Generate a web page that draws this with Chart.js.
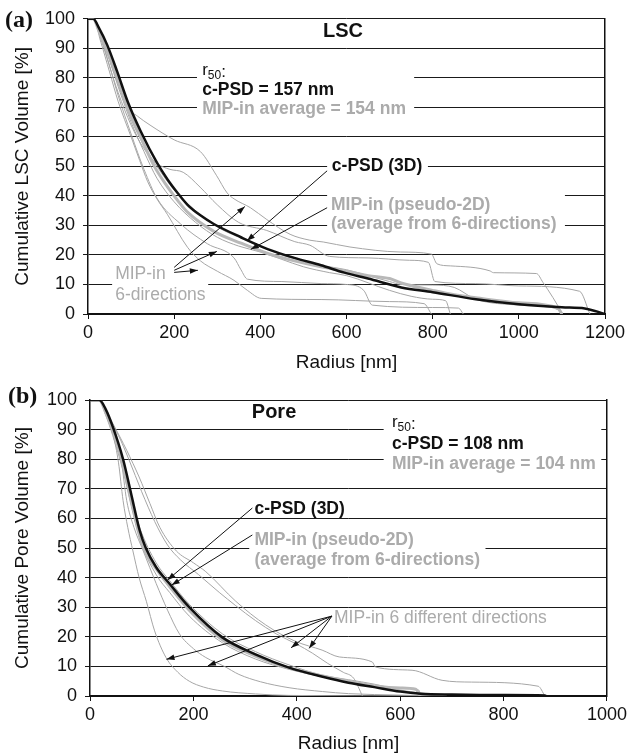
<!DOCTYPE html>
<html>
<head>
<meta charset="utf-8">
<script src="https://cdn.jsdelivr.net/npm/chart.js@4.4.1/dist/chart.umd.min.js"></script>
<style>
  html, body { margin: 0; padding: 0; background: #fff; }
  .panel { position: absolute; left: 0; width: 630px; height: 378px; }
  #pa { top: 0; }
  #pb { top: 378px; }
</style>
</head>
<body>
<div class="panel" id="pa"><canvas id="ca" width="630" height="378"></canvas></div>
<div class="panel" id="pb"><canvas id="cb" width="630" height="378"></canvas></div>
<script>
// ---------- DATA (radius nm, cumulative volume %) ----------
// Panel (a) LSC
const lscTicksX = [0, 200, 400, 600, 800, 1000, 1200];
const lscCpsd = [[0,100],[12,100],[25,97],[45,91],[68,82],[92,72],[122,62],[161,51],[185,45.5],[208,41],[231,37],[260,33.5],[292,30.5],[355,26],[417,22],[479,19],[541,16.5],[595,14],[650,12],[727,9],[800,7.4],[900,5],[1000,3.3],[1100,2.3],[1153,1.9],[1200,0]];
const lscMipAvg = [[0,100],[12,100],[25,96],[45,89],[68,80],[92,70],[122,60],[154,50],[185,43],[208,38.5],[231,34.5],[292,28],[355,24],[417,20.5],[479,18],[541,16],[600,14.5],[650,13],[700,12],[727,10.5],[800,8],[850,6.5],[900,5.5],[1000,3.8],[1090,2],[1100,0]];
const lscMipDir1 = [[0,100],[12,100],[30,95],[50,86],[70,78],[92,70],[115,67],[144,64],[200,59],[261,55],[298,47],[323,41],[339,39],[377,36],[415,32],[469,27],[515,25],[546,24.4],[608,22.7],[725,21],[797,20.3],[810,17],[841,16.3],[933,14.6],[941,14],[1041,13.7],[1056,10.7],[1079,5.6],[1102,0]];
const lscMipDir2 = [[0,100],[12,100],[30,94],[50,84],[70,75],[100,64],[130,56],[160,51],[190,49],[221,48],[260,43],[300,37],[350,31],[415,28.3],[480,24.5],[515,23.3],[561,19.5],[650,19],[746,18.2],[790,17.5],[805,11],[900,10.3],[1000,9.5],[1141,7.7],[1165,0]];
const lscMipDir3 = [[0,100],[12,100],[30,93],[50,84],[70,74],[100,61],[130,49],[161,39],[215,30.5],[277,23.8],[339,19],[355,15],[370,11.8],[450,11],[541,10.3],[600,10],[640,8],[660,3],[800,2.2],[860,2],[871,0]];
const lscMipDir4 = [[0,100],[12,100],[30,94],[50,86],[70,77],[100,65],[130,55],[160,46],[200,38],[250,31],[300,26],[350,23],[400,21],[450,18.5],[500,16],[561,14],[600,13],[700,8],[750,6],[800,5],[830,4.5],[841,0]];
const lscMipDir5 = [[0,100],[12,100],[30,92],[50,82],[70,72],[100,60],[120,52],[138,45],[160,39],[184,33.8],[231,22.6],[261,18],[300,14.5],[339,11.4],[370,8],[402,5.3],[541,4.9],[700,4.2],[780,3.5],[797,0]];
const lscMipDir6 = [[0,100],[12,100],[30,95],[50,87],[70,78],[100,66],[130,57],[160,50],[200,42],[250,35],[300,29.5],[350,26],[400,23],[450,20],[500,18],[561,16],[600,15],[650,13],[700,11],[727,10],[800,9.8],[850,9],[900,5],[1000,3],[1060,2.5],[1090,1.5],[1102,0]];

// Panel (b) Pore
const poreTicksX = [0, 200, 400, 600, 800, 1000];
const poreCpsd = [[0,100],[18,100],[30,97],[44,91],[64,80],[80,68],[96,56],[108,50],[128,43.5],[154,37.9],[192,30],[256,19.8],[320,14.1],[385,9.6],[450,6.5],[500,4.5],[550,3],[600,1.5],[640,0.8],[700,0.5],[800,0.3],[880,0.2],[882,0]];
const poreMipAvg = [[0,100],[18,100],[30,96],[44,90],[64,78],[80,66],[96,55],[104,50],[128,43],[154,37],[192,29],[256,19],[320,13.5],[385,9.5],[450,6.8],[500,5],[550,3.5],[600,2.7],[630,2.3],[639,0]];
const poreMipDir1 = [[0,100],[18,100],[35,95],[58,87.5],[71,83],[95,74],[116,65],[135,57],[167,49],[200,45],[224,42],[282,32],[340,24],[397,18.5],[449,15.5],[482,13.2],[546,11.5],[552,9.8],[623,8.7],[681,5.3],[738,4.7],[867,3.3],[880,0]];
const poreMipDir2 = [[0,100],[18,100],[35,94],[55,88],[75,80],[100,69],[125,59],[150,51],[175,46],[210,41],[250,35],[282,30.5],[320,25.5],[360,21],[400,17.5],[430,14.5],[460,11],[490,8],[510,6],[527,0]];
const poreMipDir3 = [[0,100],[18,100],[30,96],[45,88],[55,79],[64,66],[73,57],[83,49],[95,40],[109,32],[125,22],[147,13],[170,8],[192,5],[220,3],[256,1.7],[320,0.7],[385,0.2],[640,0]];
const poreMipDir4 = [[0,100],[18,100],[30,97],[45,90],[60,80],[71,66],[85,57],[103,49],[128,38],[150,29],[173,21],[200,16],[224,13],[260,10],[288,7.3],[330,4.8],[385,2.8],[450,1.5],[500,0.8],[600,0.3],[690,0]];
const poreMipDir5 = [[0,100],[18,100],[30,95],[44,88],[64,76],[80,64],[96,53],[128,41],[154,35],[192,27],[256,18],[320,12.5],[385,9],[450,6.5],[500,5],[550,3.5],[600,2.5],[636,2],[640,0]];
const poreMipDir6 = [[0,100],[18,100],[32,96],[48,89],[64,79],[80,67],[96,57],[128,45],[154,39],[192,31],[256,21],[320,15],[385,10.5],[450,7],[500,5.5],[550,4],[600,2],[640,1],[690,0]];

const yTicks = [0,10,20,30,40,50,60,70,80,90,100];

// ---------- STYLE ----------
const FONT = '"Liberation Sans", Arial, Helvetica, sans-serif';
const GRAY_TXT = '#ababab';
const THIN = '#a6a6a6';
const AVG = '#b8b8b8';
Chart.defaults.font.family = FONT;
Chart.defaults.color = '#111';

const toXY = a => a.map(p => ({x: p[0], y: p[1]}));

function datasets(cpsd, avg, dirs) {
  const ds = [];
  dirs.forEach((d, i) => ds.push({label: 'MIP-in dir ' + (i+1), data: toXY(d), borderColor: THIN, borderWidth: 1, order: 3}));
  ds.push({label: 'MIP-in average', data: toXY(avg), borderColor: AVG, borderWidth: 3, order: 2});
  ds.push({label: 'c-PSD (3D)', data: toXY(cpsd), borderColor: '#111', borderWidth: 2.5, order: 1});
  ds.forEach(d => { d.pointRadius = 0; d.cubicInterpolationMode = 'monotone'; d.fill = false; });
  return ds;
}

function arrow(ctx, x0, y0, x1, y1) {
  ctx.beginPath(); ctx.moveTo(x0, y0); ctx.lineTo(x1, y1); ctx.stroke();
  const a = Math.atan2(y1 - y0, x1 - x0), L = 8, W = 2.8;
  ctx.beginPath();
  ctx.moveTo(x1, y1);
  ctx.lineTo(x1 - L*Math.cos(a) + W*Math.sin(a), y1 - L*Math.sin(a) - W*Math.cos(a));
  ctx.lineTo(x1 - L*Math.cos(a) - W*Math.sin(a), y1 - L*Math.sin(a) + W*Math.cos(a));
  ctx.closePath(); ctx.fill();
}

function annotPlugin(cfg) {
  return {
    id: 'annot',
    beforeDatasetsDraw(chart) {
      const {ctx, scales: {x, y}} = chart;
      ctx.save(); ctx.fillStyle = '#fff';
      cfg.boxes.forEach(b => {
        const x0 = x.getPixelForValue(b[0]), x1 = x.getPixelForValue(b[1]);
        const y0 = y.getPixelForValue(b[2]), y1 = y.getPixelForValue(b[3]);
        ctx.fillRect(x0, y0, x1 - x0, y1 - y0);
      });
      ctx.restore();
    },
    afterDatasetsDraw(chart) {
      const {ctx, scales: {x, y}} = chart;
      ctx.save();
      ctx.strokeStyle = '#111'; ctx.fillStyle = '#111'; ctx.lineWidth = 1;
      cfg.arrows.forEach(a => arrow(ctx, x.getPixelForValue(a[0]), y.getPixelForValue(a[1]), x.getPixelForValue(a[2]), y.getPixelForValue(a[3])));
      ctx.textBaseline = 'middle';
      cfg.texts.forEach(t => {
        ctx.font = t.font; ctx.fillStyle = t.color; ctx.textAlign = t.align || 'left';
        ctx.fillText(t.text, x.getPixelForValue(t.x), y.getPixelForValue(t.y));
      });
      // r50 label with subscript
      const r = cfg.r50;
      let px = x.getPixelForValue(r.x), py = y.getPixelForValue(r.y);
      ctx.textAlign = 'left'; ctx.fillStyle = '#111';
      ctx.font = '17px ' + FONT; ctx.fillText('r', px, py); px += ctx.measureText('r').width;
      ctx.font = '12px ' + FONT; ctx.fillText('50', px, py + 5); px += ctx.measureText('50').width;
      ctx.font = '17px ' + FONT; ctx.fillText(':', px, py + 2);
      // panel letter
      ctx.font = 'bold 24px "Liberation Serif", "Times New Roman", serif';
      ctx.fillStyle = '#111'; ctx.textAlign = 'left';
      ctx.fillText(cfg.letter, cfg.letterPos[0], cfg.letterPos[1]);
      ctx.restore();
    }
  };
}

function makeChart(id, o) {
  return new Chart(document.getElementById(id), {
    type: 'line',
    data: {datasets: o.datasets},
    options: {
      responsive: false, animation: false, devicePixelRatio: 1,
      layout: {padding: {top: o.padTop, right: o.padRight, left: 0, bottom: 0}},
      plugins: {legend: {display: false}, tooltip: {enabled: false}},
      scales: {
        x: {
          type: 'linear', min: 0, max: o.xMax,
          afterBuildTicks: s => { s.ticks = o.xTicks.map(v => ({value: v})); },
          afterFit: s => { s.height = o.xHeight; },
          ticks: {font: {size: 18}, color: '#111', padding: 3, maxRotation: 0, callback: v => String(v)},
          grid: {drawOnChartArea: false, drawTicks: true, tickLength: 5, color: '#111'},
          border: {display: true, color: '#111', width: 2},
          title: {display: true, text: 'Radius [nm]', font: {size: 19}, color: '#111', padding: {top: 0, bottom: o.xTitlePad}}
        },
        y: {
          type: 'linear', min: 0, max: 100,
          afterBuildTicks: s => { s.ticks = yTicks.map(v => ({value: v})); },
          afterFit: s => { s.width = o.yWidth; },
          ticks: {font: {size: 18}, color: '#111', padding: 8, callback: v => String(v)},
          grid: {color: '#1a1a1a', lineWidth: 1, tickLength: 5},
          border: {display: true, color: '#111', width: 1.5},
          title: {display: true, text: o.yTitle, font: {size: 19}, color: '#111', padding: {top: 11, bottom: 0}}
        },
        y2: {
          type: 'linear', position: 'right', min: 0, max: 100,
          afterFit: s => { s.width = 0; },
          ticks: {display: false},
          grid: {drawOnChartArea: false, drawTicks: false},
          border: {display: true, color: '#111', width: 1.5}
        }
      }
    },
    plugins: [annotPlugin(o.annot)]
  });
}

const bold = s => 'bold ' + s + 'px ' + FONT;
const norm = s => s + 'px ' + FONT;

// ---------- Panel (a) ----------
makeChart('ca', {
  datasets: datasets(lscCpsd, lscMipAvg, [lscMipDir1, lscMipDir2, lscMipDir3, lscMipDir4, lscMipDir5, lscMipDir6]),
  xMax: 1200, xTicks: lscTicksX, padTop: 17, padRight: 25, yWidth: 88, xHeight: 64, xTitlePad: 4,
  yTitle: 'Cumulative LSC Volume [%]',
  annot: {
    letter: '(a)', letterPos: [5, 21],
    boxes: [[253, 757, 85.5, 66], [555, 789, 53.2, 47.1], [555, 1107, 41.1, 26.6], [56, 279, 17.5, 2.7]],
    arrows: [[200, 15.8, 364, 36.4], [200, 14.8, 299, 21.2], [200, 14.1, 255, 14.8], [555, 48.5, 369, 24.8], [555, 36, 378, 21.9]],
    r50: {x: 265, y: 82.4},
    texts: [
      {text: 'LSC', x: 592, y: 95.6, font: bold(20), color: '#111', align: 'center'},
      {text: 'c-PSD = 157 nm', x: 265, y: 75.8, font: bold(17.5), color: '#111'},
      {text: 'MIP-in average = 154 nm', x: 265, y: 69.4, font: bold(17.5), color: GRAY_TXT},
      {text: 'c-PSD (3D)', x: 566, y: 50.2, font: bold(17.5), color: '#111'},
      {text: 'MIP-in (pseudo-2D)', x: 564, y: 36.7, font: bold(17.5), color: GRAY_TXT},
      {text: '(average from 6-directions)', x: 564, y: 30.3, font: bold(17.5), color: GRAY_TXT},
      {text: 'MIP-in', x: 63, y: 13.5, font: norm(17.5), color: GRAY_TXT},
      {text: '6-directions', x: 63, y: 6.4, font: norm(17.5), color: GRAY_TXT}
    ]
  }
});

// ---------- Panel (b) ----------
makeChart('cb', {
  datasets: datasets(poreCpsd, poreMipAvg, [poreMipDir1, poreMipDir2, poreMipDir3, poreMipDir4, poreMipDir5, poreMipDir6]),
  xMax: 1000, xTicks: poreTicksX, padTop: 22, padRight: 21, yWidth: 90, xHeight: 60, xTitlePad: 1,
  yTitle: 'Cumulative Pore Volume [%]',
  annot: {
    letter: '(b)', letterPos: [8, 19],
    boxes: [[568, 989, 95.9, 75], [308, 501, 66.2, 60.8], [308, 765, 56.1, 42.6], [468, 896, 29.4, 23]],
    arrows: [[314, 63.5, 150, 39.2], [314, 54.4, 158, 37.5], [468, 27, 148, 12.4], [468, 27, 228, 10.2], [468, 27, 389, 16.3], [468, 27, 424, 16.1]],
    r50: {x: 584, y: 92.4},
    texts: [
      {text: 'Pore', x: 356, y: 95.9, font: bold(20), color: '#111', align: 'center'},
      {text: 'c-PSD = 108 nm', x: 584, y: 85.1, font: bold(17.5), color: '#111'},
      {text: 'MIP-in average = 104 nm', x: 584, y: 78.4, font: bold(17.5), color: GRAY_TXT},
      {text: 'c-PSD (3D)', x: 318, y: 63, font: bold(17.5), color: '#111'},
      {text: 'MIP-in (pseudo-2D)', x: 318, y: 52.7, font: bold(17.5), color: GRAY_TXT},
      {text: '(average from 6-directions)', x: 318, y: 45.9, font: bold(17.5), color: GRAY_TXT},
      {text: 'MIP-in 6 different directions', x: 472, y: 26.4, font: norm(17.5), color: GRAY_TXT}
    ]
  }
});
</script>
</body>
</html>
